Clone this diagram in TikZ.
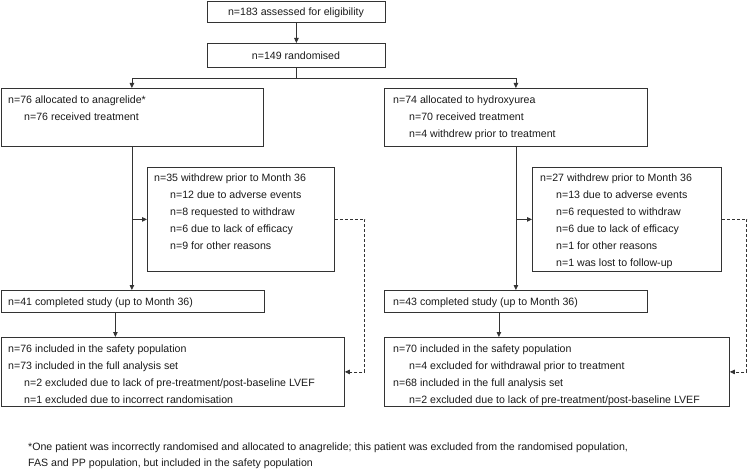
\documentclass[tikz,border=0pt]{standalone}
\usepackage{fontspec}
\setmainfont{Liberation Sans}
\usetikzlibrary{arrows.meta,calc}
\definecolor{ln}{HTML}{333333}
\definecolor{tx}{HTML}{1A1A1A}
\tikzset{
  box/.style={draw=ln, line width=0.8pt, rectangle, inner sep=0pt, anchor=north west},
  txt/.style={anchor=base west, inner sep=0pt, text=tx, font=\fontsize{10.6}{12}\selectfont},
  ctxt/.style={anchor=base, inner sep=0pt, text=tx, font=\fontsize{10.6}{12}\selectfont},
  ftxt/.style={anchor=base west, inner sep=0pt, text=tx, font=\fontsize{10.6}{12}\selectfont},
  conn/.style={draw=ln, line width=0.8pt},
  arr/.style={conn, -{Triangle[length=5pt,width=4.5pt]}},
  darr/.style={conn, dashed, dash pattern=on 3pt off 2pt, -{Triangle[length=5pt,width=4.5pt]}}
}
\begin{document}
\begin{tikzpicture}[x=1pt,y=-1pt]
\useasboundingbox (0,0) rectangle (749,470);
% top boxes
\node[box, minimum width=178, minimum height=21] (A) at (207,1) {};
\node[ctxt] (At) at (296,16) {n=183 assessed for eligibility};
\node[box, minimum width=178, minimum height=24] (B) at (207,43) {};
\node[ctxt] (Bt) at (296,60) {n=149 randomised};
% allocation boxes
\node[box, minimum width=262, minimum height=58] (C) at (0.5,88) {};
\node[txt] (C1) at (8,104) {n=76 allocated to anagrelide*};
\node[txt] (C2) at (24,121) {n=76 received treatment};
\node[box, minimum width=263, minimum height=58] (D) at (384,88) {};
\node[txt] (D1) at (393,104) {n=74 allocated to hydroxyurea};
\node[txt] (D2) at (409,121) {n=70 received treatment};
\node[txt] (D3) at (409,137.5) {n=4 withdrew prior to treatment};
% withdrawn boxes
\node[box, minimum width=187, minimum height=104] (E) at (147,167) {};
\node[txt] (E1) at (154,182) {n=35 withdrew prior to Month 36};
\node[txt] (E2) at (170,199) {n=12 due to adverse events};
\node[txt] (E3) at (170,216) {n=8 requested to withdraw};
\node[txt] (E4) at (170,233) {n=6 due to lack of efficacy};
\node[txt] (E5) at (170,250) {n=9 for other reasons};
\node[box, minimum width=189, minimum height=104] (F) at (532,167) {};
\node[txt] (F1) at (540,182) {n=27 withdrew prior to Month 36};
\node[txt] (F2) at (556,199) {n=13 due to adverse events};
\node[txt] (F3) at (556,216) {n=6 requested to withdraw};
\node[txt] (F4) at (556,233) {n=6 due to lack of efficacy};
\node[txt] (F5) at (556,250) {n=1 for other reasons};
\node[txt] (F6) at (556,266.5) {n=1 was lost to follow-up};
% completed boxes
\node[box, minimum width=263, minimum height=22] (G) at (0.5,290) {};
\node[txt] (G1) at (8,305) {n=41 completed study (up to Month 36)};
\node[box, minimum width=263, minimum height=22] (H) at (384,290) {};
\node[txt] (H1) at (393,305) {n=43 completed study (up to Month 36)};
% population boxes
\node[box, minimum width=343.5, minimum height=69] (I) at (0.5,337) {};
\node[txt] (I1) at (8,352) {n=76 included in the safety population};
\node[txt] (I2) at (8,369) {n=73 included in the full analysis set};
\node[txt] (I3) at (24,386) {n=2 excluded due to lack of pre-treatment/post-baseline LVEF};
\node[txt] (I4) at (24,403) {n=1 excluded due to incorrect randomisation};
\node[box, minimum width=345, minimum height=69] (J) at (384,337) {};
\node[txt] (J1) at (393,352) {n=70 included in the safety population};
\node[txt] (J2) at (409,369) {n=4 excluded for withdrawal prior to treatment};
\node[txt] (J3) at (393,386) {n=68 included in the full analysis set};
\node[txt] (J4) at (409,403) {n=2 excluded due to lack of pre-treatment/post-baseline LVEF};
% footnote
\node[ftxt] (N1) at (28,450) {*One patient was incorrectly randomised and allocated to anagrelide; this patient was excluded from the randomised population,};
\node[ftxt] (N2) at (28,466) {FAS and PP population, but included in the safety population};
% connectors
\draw[arr] (A.south) -- (B.north);
\coordinate (split) at ($(B.south)+(0,11)$);
\draw[conn] (B.south) -- (split);
\draw[arr] (split) -| (C.north);
\draw[arr] (split) -| (D.north);
\draw[arr] (C.south) -- (C.south |- G.north);
\draw[arr] (C.south |- E.west) -- (E.west);
\draw[arr] (D.south) -- (D.south |- H.north);
\draw[arr] (D.south |- F.west) -- (F.west);
\draw[arr] ([xshift=-17pt]G.south) -- ([xshift=-17pt]G.south |- I.north);
\draw[arr] ([xshift=-17pt]H.south) -- ([xshift=-17pt]H.south |- J.north);
\draw[darr] (E.east) -- ++(30,0) |- (I.east);
\draw[darr] (F.east) -- ++(25,0) |- (J.east);
\end{tikzpicture}
\end{document}
